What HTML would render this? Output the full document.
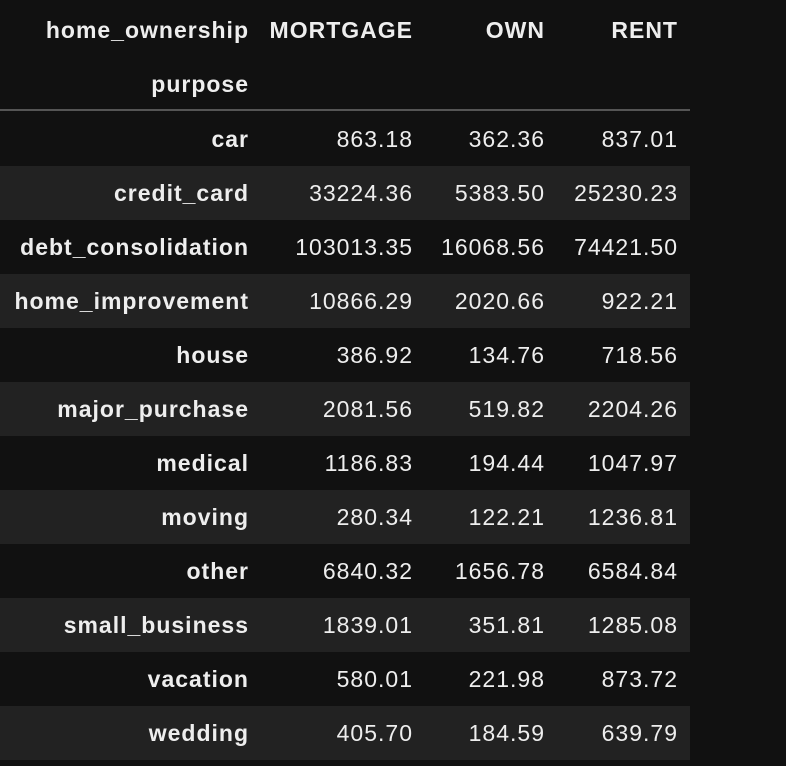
<!DOCTYPE html>
<html><head><meta charset="utf-8"><style>
body{margin:0;width:786px;height:766px;background:#111111;overflow:hidden;font-family:"Liberation Sans",sans-serif;color:#eeeeee}
.row{position:absolute;left:0;width:690px;height:54px}
.c{position:absolute;top:0;height:54px;line-height:54px;font-size:23px;letter-spacing:1px;text-align:right;white-space:nowrap}
.b{font-weight:bold}
</style></head><body>
<div id="t"></div>
<script>
const purposes=["car","credit_card","debt_consolidation","home_improvement","house","major_purchase","medical","moving","other","small_business","vacation","wedding"];
const mortgage=["863.18","33224.36","103013.35","10866.29","386.92","2081.56","1186.83","280.34","6840.32","1839.01","580.01","405.70"];
const own=["362.36","5383.50","16068.56","2020.66","134.76","519.82","194.44","122.21","1656.78","351.81","221.98","184.59"];
const rent=["837.01","25230.23","74421.50","922.21","718.56","2204.26","1047.97","1236.81","6584.84","1285.08","873.72","639.79"];
const headers=["home_ownership","MORTGAGE","OWN","RENT"];
const rights=[248,412,544,677];
const t=document.getElementById('t');
function cell(parent,text,right,bold,name){
  const d=document.createElement('div');
  d.className='c'+(bold?' b':'');
  d.style.right=(690-right-1)+'px';
  d.textContent=text;
  
  
  parent.appendChild(d);
}
const h1=document.createElement('div');h1.className='row';h1.style.top='3px';


headers.forEach((h,i)=>cell(h1,h,rights[i],true,'column-header'));
t.appendChild(h1);
const h2=document.createElement('div');h2.className='row';h2.style.top='57px';


cell(h2,"purpose",248,true,'index-name');
t.appendChild(h2);
const line=document.createElement('div');
line.style.cssText='position:absolute;left:0;top:109px;width:690px;height:2px;background:#555';


t.appendChild(line);
purposes.forEach((p,i)=>{
  const r=document.createElement('div');r.className='row';
  r.style.top=(112+i*54)+'px';
  if(i%2===1)r.style.background='#222222';
  
  
  cell(r,p,248,true,'row-label');
  cell(r,mortgage[i],412,false,'mortgage-value');
  cell(r,own[i],544,false,'own-value');
  cell(r,rent[i],677,false,'rent-value');
  t.appendChild(r);
});
</script>
</body></html>
